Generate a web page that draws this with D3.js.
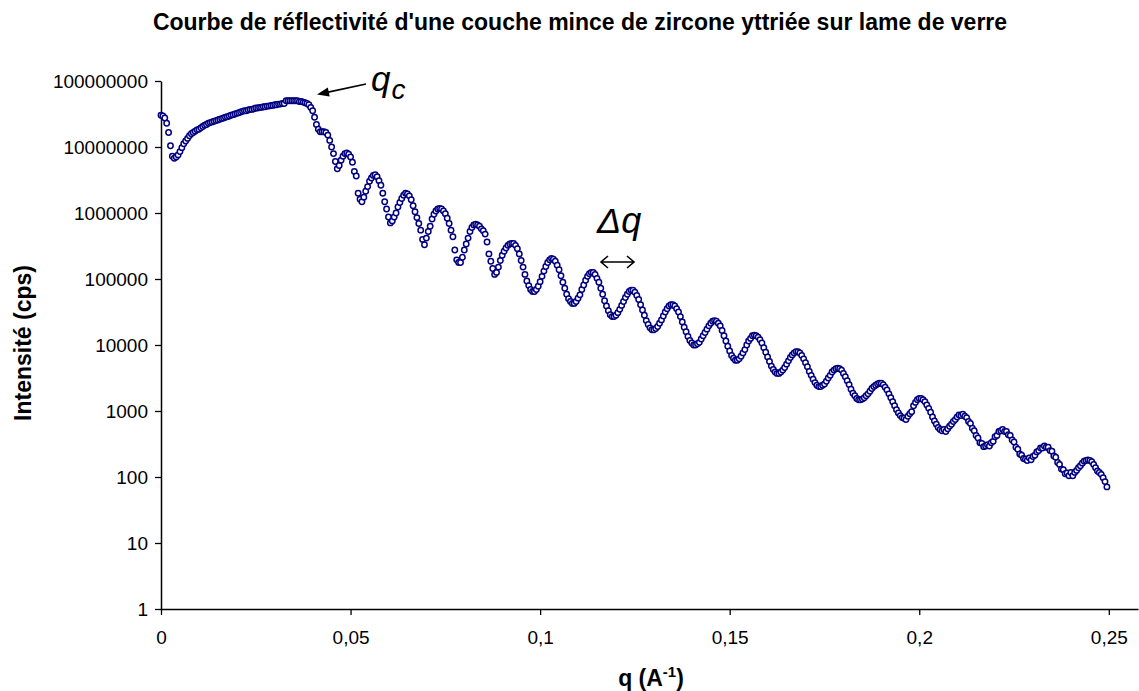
<!DOCTYPE html>
<html><head><meta charset="utf-8">
<script src="https://cdn.jsdelivr.net/npm/d3@7"></script>
<style>body{margin:0;background:#fff}svg{display:block}text{font-family:Arial,"Liberation Sans",sans-serif}</style>
</head><body><svg id="c" width="1139" height="691"></svg>
<script>
const title = "Courbe de réflectivité d'une couche mince de zircone yttriée sur lame de verre";
const xTicks = [0, 0.05, 0.1, 0.15, 0.2, 0.25];
const xTickLabels = ["0", "0,05", "0,1", "0,15", "0,2", "0,25"];
const yTicks = [1, 10, 100, 1000, 10000, 100000, 1000000, 10000000, 100000000];
const yTickLabels = ["1", "10", "100", "1000", "10000", "100000", "1000000", "10000000", "100000000"];
// q (A^-1)
const q = [
0,0.0005,0.001,0.0015,0.002,0.0025,0.003,0.0035,0.004,0.0045,0.005,0.0055,0.006,0.0065,0.007,0.0075,0.008,0.0085,0.009,0.0095,
0.01,0.0105,0.011,0.0115,0.012,0.0125,0.013,0.0135,0.014,0.0145,0.015,0.0155,0.016,0.0165,0.017,0.0175,0.018,0.0185,0.019,0.0195,
0.02,0.0205,0.021,0.0215,0.022,0.0225,0.023,0.0235,0.024,0.0245,0.025,0.0255,0.026,0.0265,0.027,0.0275,0.028,0.0285,0.029,0.0295,
0.03,0.0305,0.031,0.0315,0.032,0.0325,0.033,0.0335,0.034,0.0345,0.035,0.0355,0.036,0.0365,0.037,0.0375,0.038,0.0385,0.039,0.0395,
0.04,0.0405,0.041,0.0415,0.042,0.0425,0.043,0.0435,0.044,0.0445,0.045,0.0455,0.046,0.0465,0.047,0.0475,0.048,0.0485,0.049,0.0495,
0.05,0.0505,0.051,0.0515,0.052,0.0525,0.053,0.0535,0.054,0.0545,0.055,0.0555,0.056,0.0565,0.057,0.0575,0.058,0.0585,0.059,0.0595,
0.06,0.0605,0.061,0.0615,0.062,0.0625,0.063,0.0635,0.064,0.0645,0.065,0.0655,0.066,0.0665,0.067,0.0675,0.068,0.0685,0.069,0.0695,
0.07,0.0705,0.071,0.0715,0.072,0.0725,0.073,0.0735,0.074,0.0745,0.075,0.0755,0.076,0.0765,0.077,0.0775,0.078,0.0785,0.079,0.0795,
0.08,0.0805,0.081,0.0815,0.082,0.0825,0.083,0.0835,0.084,0.0845,0.085,0.0855,0.086,0.0865,0.087,0.0875,0.088,0.0885,0.089,0.0895,
0.09,0.0905,0.091,0.0915,0.092,0.0925,0.093,0.0935,0.094,0.0945,0.095,0.0955,0.096,0.0965,0.097,0.0975,0.098,0.0985,0.099,0.0995,
0.1,0.1005,0.101,0.1015,0.102,0.1025,0.103,0.1035,0.104,0.1045,0.105,0.1055,0.106,0.1065,0.107,0.1075,0.108,0.1085,0.109,0.1095,
0.11,0.1105,0.111,0.1115,0.112,0.1125,0.113,0.1135,0.114,0.1145,0.115,0.1155,0.116,0.1165,0.117,0.1175,0.118,0.1185,0.119,0.1195,
0.12,0.1205,0.121,0.1215,0.122,0.1225,0.123,0.1235,0.124,0.1245,0.125,0.1255,0.126,0.1265,0.127,0.1275,0.128,0.1285,0.129,0.1295,
0.13,0.1305,0.131,0.1315,0.132,0.1325,0.133,0.1335,0.134,0.1345,0.135,0.1355,0.136,0.1365,0.137,0.1375,0.138,0.1385,0.139,0.1395,
0.14,0.1405,0.141,0.1415,0.142,0.1425,0.143,0.1435,0.144,0.1445,0.145,0.1455,0.146,0.1465,0.147,0.1475,0.148,0.1485,0.149,0.1495,
0.15,0.1505,0.151,0.1515,0.152,0.1525,0.153,0.1535,0.154,0.1545,0.155,0.1555,0.156,0.1565,0.157,0.1575,0.158,0.1585,0.159,0.1595,
0.16,0.1605,0.161,0.1615,0.162,0.1625,0.163,0.1635,0.164,0.1645,0.165,0.1655,0.166,0.1665,0.167,0.1675,0.168,0.1685,0.169,0.1695,
0.17,0.1705,0.171,0.1715,0.172,0.1725,0.173,0.1735,0.174,0.1745,0.175,0.1755,0.176,0.1765,0.177,0.1775,0.178,0.1785,0.179,0.1795,
0.18,0.1805,0.181,0.1815,0.182,0.1825,0.183,0.1835,0.184,0.1845,0.185,0.1855,0.186,0.1865,0.187,0.1875,0.188,0.1885,0.189,0.1895,
0.19,0.1905,0.191,0.1915,0.192,0.1925,0.193,0.1935,0.194,0.1945,0.195,0.1955,0.196,0.1965,0.197,0.1975,0.198,0.1985,0.199,0.1995,
0.2,0.2005,0.201,0.2015,0.202,0.2025,0.203,0.2035,0.204,0.2045,0.205,0.2055,0.206,0.2065,0.207,0.2075,0.208,0.2085,0.209,0.2095,
0.21,0.2105,0.211,0.2115,0.212,0.2125,0.213,0.2135,0.214,0.2145,0.215,0.2155,0.216,0.2165,0.217,0.2175,0.218,0.2185,0.219,0.2195,
0.22,0.2205,0.221,0.2215,0.222,0.2225,0.223,0.2235,0.224,0.2245,0.225,0.2255,0.226,0.2265,0.227,0.2275,0.228,0.2285,0.229,0.2295,
0.23,0.2305,0.231,0.2315,0.232,0.2325,0.233,0.2335,0.234,0.2345,0.235,0.2355,0.236,0.2365,0.237,0.2375,0.238,0.2385,0.239,0.2395,
0.24,0.2405,0.241,0.2415,0.242,0.2425,0.243,0.2435,0.244,0.2445,0.245,0.2455,0.246,0.2465,0.247,0.2475,0.248,0.2485,0.249,0.2495
];
// log10 of intensity (cps), one value per q
const log10Intensity = [
7.48,7.47,7.44,7.36,7.22,7.02,6.86,6.83,6.85,6.88,6.93,6.99,7.05,7.09,7.13,7.17,7.20,7.22,7.24,7.26,
7.27,7.29,7.31,7.33,7.34,7.36,7.37,7.38,7.39,7.40,7.41,7.42,7.43,7.44,7.45,7.46,7.47,7.48,7.49,7.50,
7.51,7.52,7.53,7.54,7.55,7.55,7.56,7.57,7.57,7.58,7.59,7.59,7.60,7.60,7.61,7.61,7.62,7.62,7.63,7.63,
7.64,7.64,7.65,7.65,7.66,7.66,7.70,7.70,7.70,7.70,7.70,7.70,7.70,7.69,7.69,7.68,7.67,7.66,7.64,7.60,
7.55,7.45,7.34,7.27,7.23,7.23,7.23,7.22,7.18,7.10,7.00,6.90,6.78,6.67,6.72,6.80,6.86,6.90,6.91,6.89,
6.85,6.77,6.63,6.56,6.30,6.21,6.17,6.24,6.33,6.40,6.48,6.53,6.57,6.58,6.55,6.49,6.42,6.30,6.17,6.06,
5.94,5.85,5.88,5.94,6.00,6.09,6.16,6.22,6.27,6.30,6.29,6.26,6.20,6.11,6.02,5.93,5.84,5.74,5.60,5.52,
5.62,5.72,5.80,5.91,5.98,6.03,6.06,6.07,6.06,6.03,5.99,5.92,5.84,5.74,5.64,5.44,5.29,5.25,5.25,5.33,
5.44,5.53,5.62,5.72,5.78,5.82,5.83,5.82,5.80,5.76,5.73,5.68,5.56,5.38,5.27,5.16,5.07,5.10,5.18,5.28,
5.36,5.42,5.47,5.51,5.53,5.54,5.54,5.51,5.46,5.38,5.28,5.18,5.07,4.97,4.90,4.84,4.81,4.81,4.84,4.89,
4.96,5.04,5.12,5.19,5.25,5.29,5.31,5.30,5.27,5.21,5.14,5.05,4.95,4.86,4.77,4.70,4.66,4.63,4.63,4.66,
4.71,4.76,4.84,4.91,4.98,5.04,5.08,5.10,5.10,5.07,5.01,4.95,4.86,4.77,4.67,4.59,4.52,4.46,4.43,4.43,
4.45,4.49,4.54,4.60,4.66,4.72,4.77,4.81,4.83,4.83,4.80,4.75,4.69,4.61,4.53,4.45,4.37,4.31,4.26,4.23,
4.23,4.25,4.28,4.33,4.38,4.44,4.50,4.55,4.59,4.61,4.61,4.59,4.55,4.50,4.43,4.35,4.27,4.20,4.13,4.07,
4.03,4.00,4.00,4.02,4.04,4.09,4.14,4.19,4.24,4.29,4.33,4.36,4.37,4.36,4.33,4.29,4.22,4.14,4.06,3.98,
3.91,3.84,3.80,3.77,3.77,3.79,3.83,3.88,3.93,4.00,4.06,4.10,4.14,4.15,4.14,4.12,4.08,4.03,3.96,3.89,
3.82,3.75,3.68,3.63,3.59,3.57,3.57,3.59,3.62,3.66,3.71,3.76,3.81,3.85,3.88,3.90,3.90,3.88,3.84,3.79,
3.73,3.67,3.60,3.54,3.48,3.43,3.39,3.37,3.37,3.39,3.41,3.45,3.50,3.54,3.59,3.62,3.64,3.65,3.64,3.62,
3.57,3.52,3.46,3.40,3.33,3.27,3.23,3.19,3.17,3.17,3.18,3.20,3.23,3.26,3.30,3.34,3.37,3.39,3.41,3.42,
3.42,3.40,3.36,3.32,3.26,3.20,3.14,3.08,3.02,2.97,2.93,2.90,2.89,2.87,2.92,2.96,2.99,3.08,3.13,3.17,
3.19,3.19,3.17,3.14,3.09,3.04,2.98,2.91,2.85,2.80,2.75,2.72,2.70,2.72,2.69,2.73,2.77,2.80,2.84,2.87,
2.91,2.94,2.93,2.95,2.92,2.90,2.84,2.81,2.74,2.70,2.63,2.59,2.52,2.51,2.46,2.47,2.49,2.47,2.52,2.54,
2.61,2.63,2.69,2.70,2.72,2.69,2.69,2.64,2.63,2.56,2.53,2.45,2.42,2.35,2.33,2.28,2.27,2.25,2.29,2.26,
2.31,2.33,2.38,2.40,2.44,2.44,2.47,2.45,2.45,2.40,2.39,2.32,2.30,2.22,2.19,2.12,2.11,2.05,2.06,2.02,
2.07,2.02,2.07,2.10,2.14,2.17,2.21,2.24,2.25,2.26,2.25,2.23,2.19,2.14,2.09,2.07,2.04,1.99,1.93,1.85
];

const svg = d3.select("#c");
const x = d3.scaleLinear().domain([0, 0.2577]).range([161, 1138]);
const y = d3.scaleLog().domain([1, 1e8]).range([609, 81]);
const navy = "#000080";
const FONT = "Arial, 'Liberation Sans', sans-serif";

// title
svg.append("text").attr("x", 580).attr("y", 30).attr("text-anchor","middle")
  .attr("font-size", 23).attr("font-weight","bold").text(title);

// axes
const xAxis = d3.axisBottom(x).tickValues(xTicks).tickSize(6).tickSizeOuter(0)
  .tickFormat((d,i) => xTickLabels[i]);
const gx = svg.append("g").attr("transform","translate(0,609)").call(xAxis);
gx.select(".domain").attr("stroke","#000").attr("stroke-width",1.5);
gx.selectAll(".tick line").attr("stroke","#000").attr("stroke-width",1.3);
gx.selectAll(".tick text").attr("font-size",19).attr("font-family",FONT).attr("y",35).attr("dy",0);

const yAxis = d3.axisLeft(y).tickValues(yTicks).tickSize(6).tickSizeOuter(0)
  .tickFormat((d,i) => yTickLabels[i]);
const gy = svg.append("g").attr("transform","translate(161,0)").call(yAxis);
gy.select(".domain").attr("stroke","#000").attr("stroke-width",1.5);
gy.selectAll(".tick line").attr("stroke","#000").attr("stroke-width",1.3);
gy.selectAll(".tick text").attr("font-size",19).attr("font-family",FONT).attr("x",-13);

// axis titles
svg.append("text").attr("transform","translate(31,343) rotate(-90)").attr("text-anchor","middle")
  .attr("font-size",23).attr("font-weight","bold").text("Intensité (cps)");
const xt = svg.append("text").attr("x",651).attr("y",686).attr("text-anchor","middle")
  .attr("font-size",23).attr("font-weight","bold");
xt.append("tspan").text("q (A");
xt.append("tspan").attr("dy",-9).attr("font-size",15).text("-1");
xt.append("tspan").attr("dy",9).text(")");

// data points
const pts = q.map((d,i) => ({q: d, I: Math.pow(10, log10Intensity[i])}));
svg.append("g").selectAll("circle").data(pts).join("circle")
  .attr("cx", d => x(d.q)).attr("cy", d => y(d.I)).attr("r", 2.7)
  .attr("fill","#fff").attr("stroke", navy).attr("stroke-width", 1.5);

// annotations
svg.append("line").attr("x1",366).attr("y1",84).attr("x2",327).attr("y2",92.4)
  .attr("stroke","#000").attr("stroke-width",1.6);
svg.append("path").attr("d","M317,94.5 L329.7,96.6 L327.8,87.4 Z").attr("fill","#000");
const qc = svg.append("text").attr("x",371).attr("y",91).attr("font-size",35).attr("font-style","italic");
qc.append("tspan").text("q");
qc.append("tspan").attr("dx",1).attr("dy",8).attr("font-size",28).text("c");

svg.append("text").attr("x",597).attr("y",233).attr("font-size",36).attr("font-style","italic").text("Δq");
svg.append("path").attr("d","M601,262 L634,262 M608,256 L601,262 L608,268 M627,256 L634,262 L627,268")
  .attr("fill","none").attr("stroke","#000").attr("stroke-width",1.6);
</script></body></html>
